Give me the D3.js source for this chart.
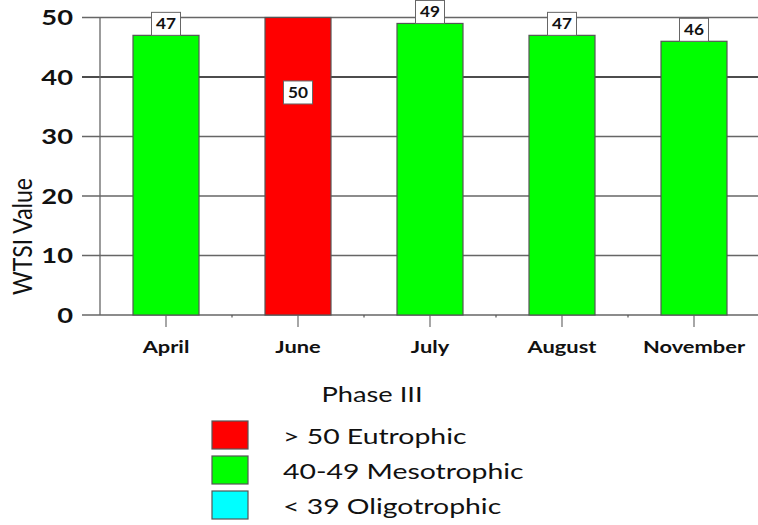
<!DOCTYPE html>
<html>
<head>
<meta charset="utf-8">
<script src="https://cdn.jsdelivr.net/npm/d3@7"></script>
<style>
  html, body { margin: 0; padding: 0; background: #fff; }
  svg { display: block; font-family: Lato, "Open Sans", sans-serif; }
</style>
</head>
<body>
<svg id="chart" width="758" height="525"></svg>
<script>
// Phase III WTSI values by sampling month
const months = ["April", "June", "July", "August", "November"];
const wtsi = [47, 50, 49, 47, 46];
const yTicks = [0, 10, 20, 30, 40, 50];

// Trophic state classes
const classLabels = ["> 50 Eutrophic", "40-49 Mesotrophic", "< 39 Oligotrophic"];
const classColors = ["#ff0000", "#00ff00", "#00ffff"];
const legendTitle = "Phase III";
const yTitle = "WTSI Value";

function classColor(v) {
  if (v >= 50) return classColors[0];
  if (v >= 40) return classColors[1];
  return classColors[2];
}

// text set in a wide face: widen glyphs horizontally around the anchor point
const wide = (x, y, sx) => `translate(${x},${y}) scale(${sx},1)`;

const svg = d3.select("#chart");
const plotLeft = 100, plotRight = 760, plotTop = 17.5, plotBottom = 315;

const x = d3.scaleBand().domain(months).range([plotLeft, plotRight])
  .paddingInner(0.5).paddingOuter(0.25);
const y = d3.scaleLinear().domain([0, 50]).range([plotBottom, plotTop]);

// horizontal gridlines with ticks extending left of the axis
svg.append("g").selectAll("line").data(yTicks).join("line")
  .attr("x1", plotLeft - 18).attr("x2", 758)
  .attr("y1", d => y(d)).attr("y2", d => y(d))
  .attr("stroke", d => d === 40 ? "#111" : "#666").attr("stroke-width", 1.3);

// vertical axis line
svg.append("line")
  .attr("x1", plotLeft).attr("x2", plotLeft).attr("y1", y(50)).attr("y2", y(0))
  .attr("stroke", "#666").attr("stroke-width", 1.3);

// y tick labels
svg.append("g").selectAll("text").data(yTicks).join("text")
  .attr("transform", d => wide(73, y(d), 1.3)).attr("dy", "0.36em")
  .attr("text-anchor", "end")
  .attr("font-size", 21).attr("font-weight", "bold").attr("fill", "#111")
  .text(d => d);

// y title, set low beside the axis
svg.append("text")
  .attr("transform", `translate(32,${y(10) - 19}) rotate(-90) scale(1,1.2)`)
  .attr("text-anchor", "middle")
  .attr("font-size", 23).attr("fill", "#111")
  .text(yTitle);

// x ticks at bar centres, small marks at band boundaries
svg.append("g").selectAll("line").data(months).join("line")
  .attr("x1", d => x(d) + x.bandwidth() / 2).attr("x2", d => x(d) + x.bandwidth() / 2)
  .attr("y1", y(0)).attr("y2", y(0) + 12)
  .attr("stroke", "#777").attr("stroke-width", 1.3);
svg.append("g").selectAll("line").data(months.slice(1)).join("line")
  .attr("x1", d => x(d) - x.step() * x.paddingInner() / 2)
  .attr("x2", d => x(d) - x.step() * x.paddingInner() / 2)
  .attr("y1", y(0)).attr("y2", y(0) + 2.5)
  .attr("stroke", "#555").attr("stroke-width", 1.2);

// x labels
svg.append("g").selectAll("text").data(months).join("text")
  .attr("transform", d => wide(x(d) + x.bandwidth() / 2, 353, 1.25))
  .attr("text-anchor", "middle")
  .attr("font-size", 17.5).attr("font-weight", "bold").attr("fill", "#111")
  .text(d => d);

// bars
svg.append("g").selectAll("rect").data(months).join("rect")
  .attr("x", d => x(d)).attr("width", x.bandwidth())
  .attr("y", (d, i) => y(wtsi[i])).attr("height", (d, i) => y(0) - y(wtsi[i]))
  .attr("fill", (d, i) => classColor(wtsi[i]))
  .attr("stroke", "#555").attr("stroke-width", 1.2);

// value labels in boxes: above the bar, or inside when there is no room
const boxW = 29, boxH = 23;
const lab = svg.append("g").selectAll("g").data(months).join("g")
  .attr("transform", (d, i) => {
    const cx = x(d) + x.bandwidth() / 2;
    const yt = y(wtsi[i]);
    const cy = (yt - boxH < 0) ? y(wtsi[i] - 12.6) : yt - boxH / 2;
    return `translate(${cx},${cy})`;
  });
lab.append("rect")
  .attr("x", -boxW / 2).attr("y", -boxH / 2).attr("width", boxW).attr("height", boxH)
  .attr("fill", "#fff").attr("stroke", "#666").attr("stroke-width", 1);
lab.append("text")
  .attr("transform", "scale(1.15,1)")
  .attr("text-anchor", "middle").attr("dy", "0.36em")
  .attr("font-size", 15).attr("font-weight", "bold").attr("fill", "#111")
  .text((d, i) => wtsi[i]);

// legend
svg.append("text")
  .attr("transform", wide(372, 402, 1.3)).attr("text-anchor", "middle")
  .attr("font-size", 21).attr("fill", "#111")
  .text(legendTitle);

const leg = svg.append("g").selectAll("g").data(classLabels).join("g")
  .attr("transform", (d, i) => `translate(212,${421 + i * 35})`);
leg.append("rect")
  .attr("width", 36).attr("height", 28)
  .attr("fill", (d, i) => classColors[i])
  .attr("stroke", "#555").attr("stroke-width", 1.2);
leg.append("text")
  .attr("transform", wide(71, 15, 1.29)).attr("dy", "0.36em")
  .attr("font-size", 22).attr("fill", "#111")
  .text(d => d);
</script>
</body>
</html>
